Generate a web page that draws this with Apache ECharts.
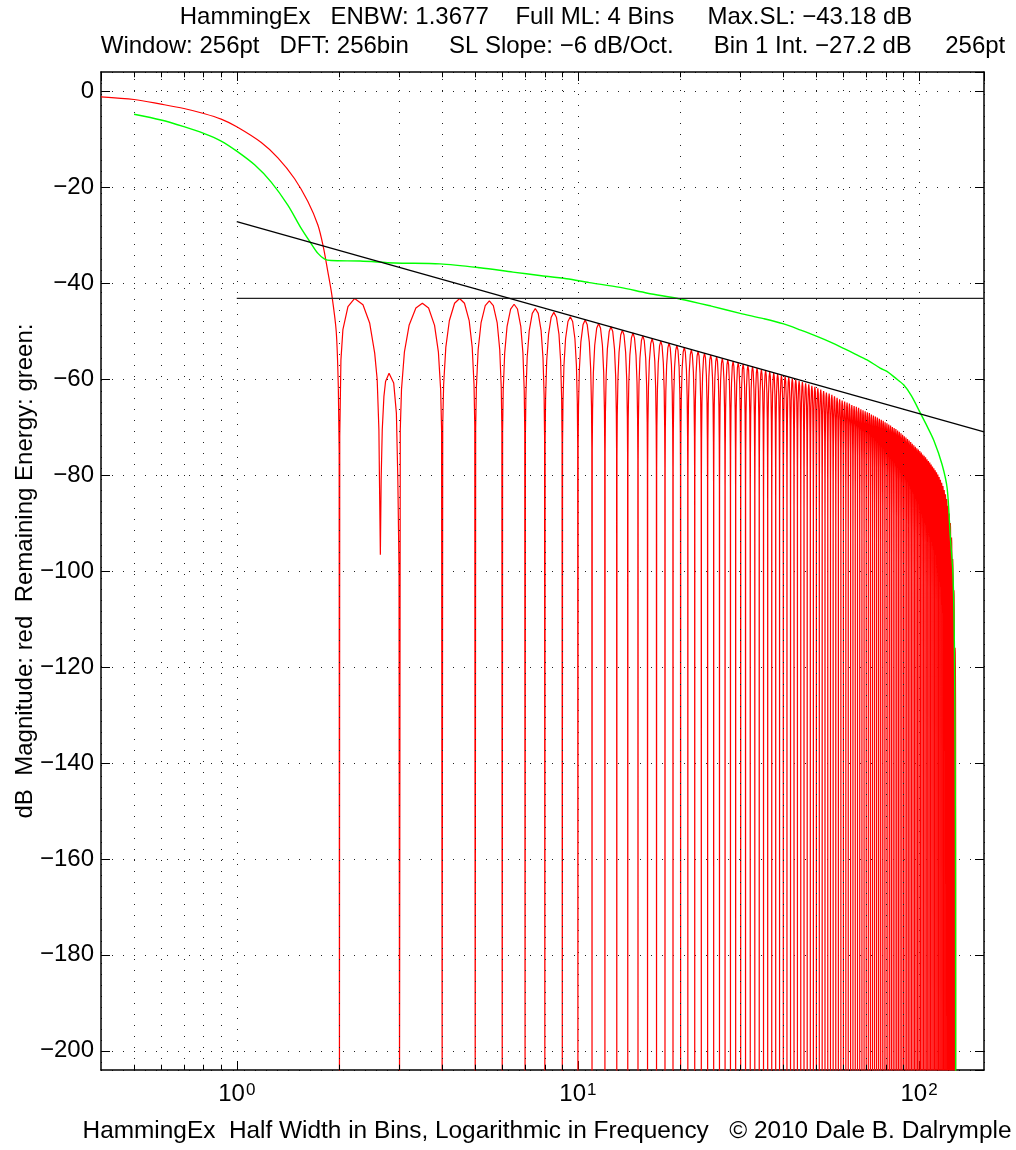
<!DOCTYPE html>
<html><head><meta charset="utf-8">
<script src="https://cdn.jsdelivr.net/npm/echarts@6/dist/echarts.min.js"></script>
<style>html,body{margin:0;padding:0;background:#fff}#c{width:1016px;height:1150px}</style>
</head><body><div id="c"></div>
<script>
const FONT = '"Liberation Sans", Arial, Helvetica, sans-serif';

// ---- texts ----
const titleLine1 = 'HammingEx   ENBW: 1.3677    Full ML: 4 Bins     Max.SL: \u221243.18 dB';
const titleLine2 = 'Window: 256pt   DFT: 256bin      SL Slope: \u22126 dB/Oct.      Bin 1 Int. \u221227.2 dB     256pt';
const xAxisTitle = 'HammingEx  Half Width in Bins, Logarithmic in Frequency   \u00a9 2010 Dale B. Dalrymple';
const yAxisTitle = 'dB  Magnitude: red  Remaining Energy: green:';

// ---- axis ranges / grid ----
const xRange = [0.4, 155];
const yRange = [-204, 4];
const minorGridX = [0.5,0.6,0.7,0.8,0.9,2,3,4,5,6,7,8,9,20,30,40,50,60,70,80,90];

// ---- red: main lobe (smooth part) [bin, dB] ----
const redMainLobe = [[0.4,-1.18],[0.5,-1.73],[0.6,-2.7],[0.7,-3.6],[0.8,-4.65],[0.9,-5.83],[1.0,-7.42],
  [1.18,-10.7],[1.32,-13.9],[1.476,-18.2],[1.616,-23.0],[1.729,-27.9],[1.793,-32.4],[1.849,-37.6],
  [1.9,-42.5],[1.957,-50.1],[1.985,-62]];
// ---- red: end of main lobe and first (split) side lobe ----
const redLobe2 = [[1.985,-62],[1.996,-75],[2.0,-210],[2.004,-72],[2.02,-56],[2.047,-49.7],[2.118,-44.9],[2.216,-43.2],[2.344,-44.5],
  [2.452,-48.3],[2.537,-54.6],[2.58,-60.1],[2.61,-70.5],[2.62,-81],[2.636,-96.6],[2.65,-81],[2.67,-70.5],
  [2.70,-63.6],[2.73,-60.5],[2.795,-58.8],[2.884,-60.8],[2.937,-67.1],[2.966,-81],[2.99,-100]];

// ---- red: side lobes 3..127 — null bins and peak level of each lobe (dB) ----
const lobeNulls = [3,4,5,6,7,8,9,10,11,12,13,14,15,16,17,18,19,20,21,22,23,24,25,26,27,28,29,30,
  31,32,33,34,35,36,37,38,39,40,41,42,43,44,45,46,47,48,49,50,51,52,53,54,55,56,57,58,59,60,
  61,62,63,64,65,66,67,68,69,70,71,72,73,74,75,76,77,78,79,80,81,82,83,84,85,86,87,88,89,90,
  91,92,93,94,95,96,97,98,99,100,101,102,103,104,105,106,107,108,109,110,111,112,113,114,115,
  116,117,118,119,120,121,122,123,124,125,126,127,128];
const lobePeaks = [
  -44.2,-43.2,-43.7,-44.4,-45.3,-46.1,-47.0,-47.7,-48.4,-49.1,
  -49.8,-50.4,-51.0,-51.6,-52.1,-52.5,-53.0,-53.4,-53.9,-54.2,
  -54.6,-55.0,-55.3,-55.7,-56.0,-56.3,-56.6,-56.9,-57.2,-57.4,
  -57.7,-58.0,-58.2,-58.5,-58.7,-58.9,-59.2,-59.4,-59.6,-59.9,
  -60.1,-60.4,-60.6,-60.9,-61.1,-61.4,-61.6,-61.9,-62.2,-62.5,
  -62.8,-63.0,-63.3,-63.6,-63.9,-64.2,-64.5,-64.7,-64.9,-65.1,
  -65.4,-65.6,-65.8,-66.0,-66.3,-66.5,-66.7,-66.9,-67.1,-67.4,
  -67.6,-67.8,-68.0,-68.3,-68.5,-68.7,-69.0,-69.2,-69.5,-69.7,
  -70.0,-70.2,-70.4,-70.7,-71.0,-71.3,-71.6,-71.9,-72.2,-72.5,
  -72.8,-73.1,-73.5,-73.8,-74.1,-74.4,-74.7,-75.0,-75.3,-75.7,
  -76.0,-76.3,-76.7,-77.1,-77.4,-77.8,-78.2,-78.6,-79.0,-79.4,
  -79.9,-80.4,-81.0,-81.6,-82.3,-83.1,-84.0,-85.0,-86.4,-88.0,
  -90.0,-93.0,-97.5,-104,-116];
// lobe profile: position within a lobe (fraction of bin) and dB below lobe peak
const lobeShapePos  = [0.015,0.04,0.1,0.2,0.35,0.5,0.65,0.8,0.9,0.96,0.985];
const lobeShapeDrop = [-26.5,-18,-10.2,-4.6,-1.0,0,-1.0,-4.6,-10.2,-18,-26.5];
const nullLevel = -210;

// ---- green: remaining energy [bin, dB] ----
const greenCurve = [[0.5,-4.8],[0.6,-6.0],[0.7,-7.4],[0.8,-8.8],[0.9,-10.4],[1.0,-12.5],[1.13,-15.4],
  [1.26,-18.9],[1.41,-23.7],[1.545,-28.6],[1.65,-31.7],[1.73,-33.8],[1.81,-35.0],[1.89,-35.3],[2.3,-35.4],
  [2.9,-35.8],[3.94,-36.0],[5.16,-36.8],[6.45,-37.7],[7.72,-38.4],[9.26,-39.1],[10.8,-39.9],[13.3,-40.9],
  [16.0,-42.1],[19.9,-43.3],[24.6,-44.8],[29.9,-46.3],[35.0,-47.4],[40.1,-48.5],[45.0,-49.8],[50.2,-51.1],
  [55.0,-52.3],[60.1,-53.6],[65.0,-54.8],[70.4,-56.0],[76.9,-57.7],[80.5,-58.4],[85.0,-59.7],[90.1,-61.2],
  [95.0,-63.5],[100.9,-67.1],[105.0,-69.5],[110.5,-72.8],[116.8,-77.8],[120.9,-82.8],[123.4,-92.6],
  [125.7,-100.7],[126.9,-115],[127.6,-140],[127.9,-165],[128.0,-210]];

// ---- black reference lines ----
const maxSidelobeLine = [[1, -43.18], [155, -43.18]];
const slopeLine = [[1, -27.2], [155, -71.0]];

// build red side-lobe polyline from the read values
const redCurve = redLobe2.slice();
for (let i = 0; i < lobePeaks.length; i++) {
  const a = lobeNulls[i], b = lobeNulls[i + 1];
  redCurve.push([a, nullLevel]);
  for (let j = 0; j < lobeShapePos.length; j++) {
    redCurve.push([a + (b - a) * lobeShapePos[j], lobePeaks[i] + lobeShapeDrop[j]]);
  }
}
redCurve.push([lobeNulls[lobeNulls.length - 1], nullLevel]);

const dotted = {color: '#222', width: 1, type: [1, 10]};
const markData = [];
minorGridX.forEach(v => markData.push({xAxis: v, lineStyle: dotted}));
minorGridX.forEach(v => {
  markData.push([{coord: [v, yRange[0]], lineStyle: {color: '#000', width: 1, type: 'solid'}}, {coord: [v, yRange[0] + 1.1]}]);
  markData.push([{coord: [v, yRange[1]], lineStyle: {color: '#000', width: 1, type: 'solid'}}, {coord: [v, yRange[1] - 1.1]}]);
});

const axisLineStyle = {show: true, onZero: false, lineStyle: {color: '#000', width: 1.5}};
const tickStyle = {show: true, inside: true, length: 9, lineStyle: {color: '#000', width: 1}};

const chart = echarts.init(document.getElementById('c'), null, {renderer: 'canvas', width: 1016, height: 1150});
chart.setOption({
  animation: false,
  backgroundColor: '#fff',
  textStyle: {fontFamily: FONT},
  grid: {left: 101, right: 32, top: 72, bottom: 80, containLabel: false},
  xAxis: [
    {type: 'log', logBase: 10, min: xRange[0], max: xRange[1], position: 'bottom',
      axisLine: axisLineStyle, axisTick: tickStyle,
      axisLabel: {show: true, margin: 12, showMinLabel: false, showMaxLabel: false, color: '#000',
        formatter: v => '{b|10}{s|' + Math.round(Math.log10(v)) + '}',
        rich: {b: {fontSize: 24, fontFamily: FONT, color: '#000', lineHeight: 24, padding: [19, 0, 0, 0], verticalAlign: 'bottom'},
               s: {fontSize: 17, fontFamily: FONT, color: '#000', lineHeight: 17, verticalAlign: 'top', padding: [0, 0, 0, 1]}}},
      splitLine: {show: true, lineStyle: dotted}},
    {type: 'log', logBase: 10, min: xRange[0], max: xRange[1], position: 'top',
      axisLine: axisLineStyle, axisTick: tickStyle, axisLabel: {show: false}, splitLine: {show: false}}
  ],
  yAxis: [
    {type: 'value', min: yRange[0], max: yRange[1], splitNumber: 10, position: 'left',
      axisLine: axisLineStyle, axisTick: tickStyle,
      axisLabel: {show: true, margin: 7, fontSize: 24, fontFamily: FONT, color: '#000', showMinLabel: false, showMaxLabel: false,
        formatter: v => (v < 0 ? '\u2212' + (-v) : String(v))},
      splitLine: {show: true, lineStyle: dotted}},
    {type: 'value', min: yRange[0], max: yRange[1], splitNumber: 10, position: 'right',
      axisLine: axisLineStyle, axisTick: tickStyle, axisLabel: {show: false}, splitLine: {show: false}}
  ],
  series: [
    {type: 'line', name: 'grid', data: [], z: 1, silent: true, symbol: 'none',
      markLine: {silent: true, symbol: ['none', 'none'], label: {show: false}, animation: false, data: markData}},
    {type: 'line', name: 'magnitude main lobe', data: redMainLobe, z: 3, symbol: 'none', showSymbol: false, silent: true, clip: true,
      smooth: 0.3, lineStyle: {color: '#ff0000', width: 1.2}},
    {type: 'line', name: 'magnitude', data: redCurve, z: 3, symbol: 'none', showSymbol: false, silent: true, clip: true,
      lineStyle: {color: '#ff0000', width: 1.2}},
    {type: 'line', name: 'energy', data: greenCurve, z: 4, symbol: 'none', showSymbol: false, silent: true, clip: true,
      smooth: 0.3, lineStyle: {color: '#00ff00', width: 1.4}},
    {type: 'line', name: 'maxSL', data: maxSidelobeLine, z: 5, symbol: 'none', showSymbol: false, silent: true,
      lineStyle: {color: '#222', width: 1.3}},
    {type: 'line', name: 'slope', data: slopeLine, z: 5, symbol: 'none', showSymbol: false, silent: true,
      lineStyle: {color: '#000', width: 1.3}}
  ],
  graphic: [
    {type: 'text', silent: true, style: {text: titleLine1, x: 546, y: 17, align: 'center', textAlign: 'center', verticalAlign: 'middle', textVerticalAlign: 'middle', fontSize: 24, fontFamily: FONT, fill: '#000'}},
    {type: 'text', silent: true, style: {text: titleLine2, x: 553, y: 46, align: 'center', textAlign: 'center', verticalAlign: 'middle', textVerticalAlign: 'middle', fontSize: 24, fontFamily: FONT, fill: '#000'}},
    {type: 'text', silent: true, style: {text: xAxisTitle, x: 547, y: 1131, align: 'center', textAlign: 'center', verticalAlign: 'middle', textVerticalAlign: 'middle', fontSize: 24.4, fontFamily: FONT, fill: '#000'}},
    {type: 'text', silent: true, x: 25, y: 571, rotation: Math.PI / 2, style: {text: yAxisTitle, x: 0, y: 0, align: 'center', textAlign: 'center', verticalAlign: 'middle', textVerticalAlign: 'middle', fontSize: 24, fontFamily: FONT, fill: '#000'}}
  ]
});
</script></body></html>
